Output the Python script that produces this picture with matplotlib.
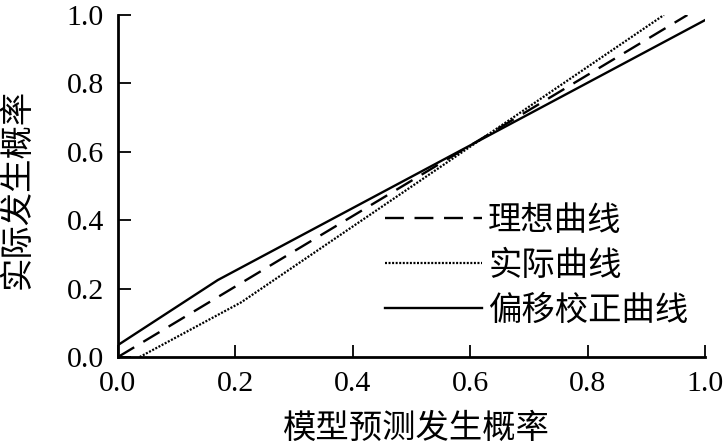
import matplotlib
matplotlib.use("Agg")
import matplotlib.pyplot as plt

# Data
ideal_x = [0.0, 0.97]
ideal_y = [0.0, 1.0]
actual_x = [0.037, 0.21, 0.93]
actual_y = [0.0, 0.16, 1.0]
corrected_x = [0.0, 0.17, 1.0]
corrected_y = [0.035, 0.225, 0.985]
ticks = [0.0, 0.2, 0.4, 0.6, 0.8, 1.0]
tick_labels = ["0.0", "0.2", "0.4", "0.6", "0.8", "1.0"]
labels = ["理想曲线", "实际曲线", "偏移校正曲线"]
xlabel = "模型预测发生概率"
ylabel = "实际发生概率"

W, H = 723, 447
fig = plt.figure(figsize=(W / 100, H / 100), dpi=100)
ax = fig.add_axes([118 / W, 1 - 357 / H, (705 - 118) / W, (357 - 15) / H])

cjk = ["Noto Sans CJK SC", "DejaVu Sans"]
serif = "Liberation Serif"

ax.plot(ideal_x, ideal_y, color="black", lw=1.7, linestyle=(0, (8, 4.5)), label=labels[0])
ax.plot(actual_x, actual_y, color="black", lw=1.6, linestyle=(0, (0.9, 0.7)), label=labels[1])
ax.plot(corrected_x, corrected_y, color="black", lw=1.7, linestyle="-", label=labels[2])

ax.set_xlim(0, 1.0)
ax.set_ylim(0, 1.0)
ax.set_xticks(ticks)
ax.set_xticklabels(tick_labels, fontfamily=serif, fontsize=21.5)
ax.set_yticks(ticks)
ax.set_yticklabels(tick_labels, fontfamily=serif, fontsize=21.5)
ax.tick_params(direction="in", length=9, width=1.3, pad=10)
for s in ["top", "right"]:
    ax.spines[s].set_visible(False)
for s in ["left", "bottom"]:
    ax.spines[s].set_linewidth(2.0)

fig.text(416 / W, 1 - 428 / H, xlabel, ha="center", va="center",
         fontsize=24, family=cjk)
fig.text(17 / W, 1 - 189 / H, ylabel, ha="center", va="center",
         rotation=90, fontsize=24, family=cjk)

leg = ax.legend(loc="upper left", bbox_to_anchor=(385 / W, 1 - 203 / H),
                bbox_transform=fig.transFigure, frameon=False,
                prop={"family": cjk, "size": 24}, handlelength=2.9,
                handletextpad=0.2, labelspacing=0.3, borderpad=0,
                borderaxespad=0)

fig.savefig("out.png", dpi=100)
